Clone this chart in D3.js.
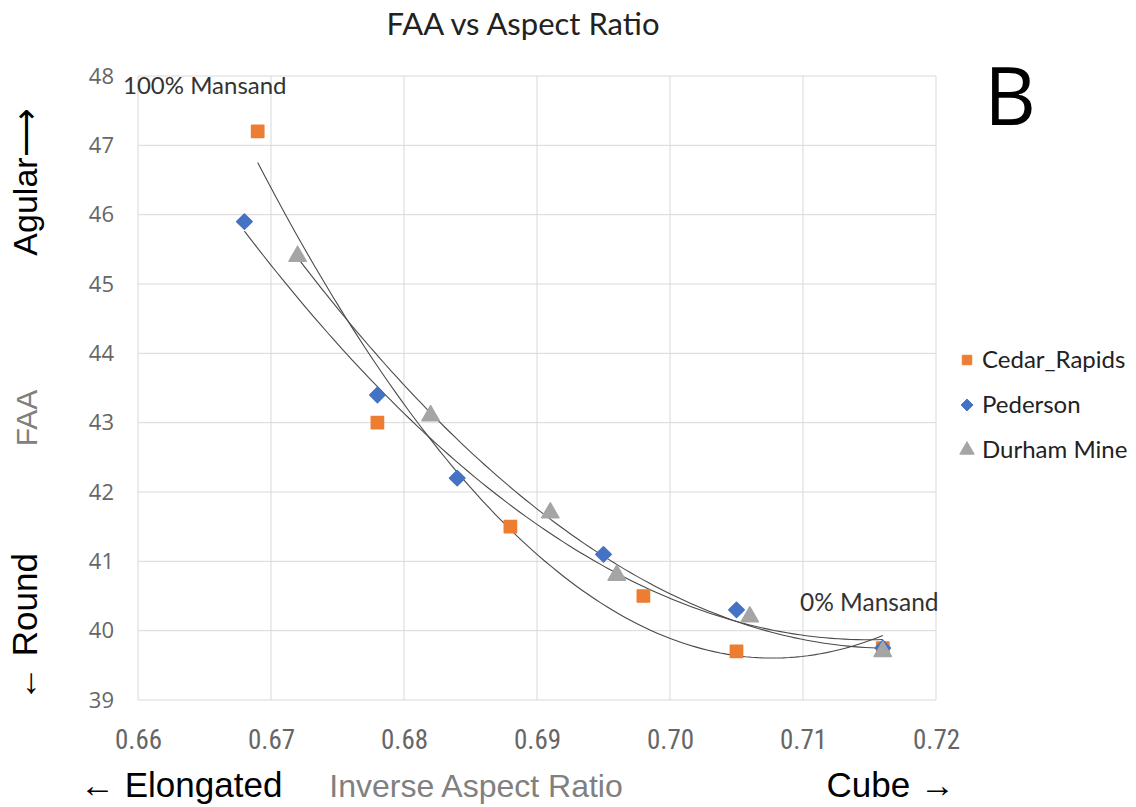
<!DOCTYPE html>
<html>
<head>
<meta charset="utf-8">
<script src="https://cdn.jsdelivr.net/npm/d3@7"></script>
<style>
  body { margin: 0; background: #fff; }
  svg { display: block; }
</style>
</head>
<body>
<svg width="1136" height="807"></svg>
<script>
// data
const seriesNames = ['Cedar_Rapids', 'Pederson', 'Durham Mine'];
const cedarX = [0.669, 0.678, 0.688, 0.698, 0.705, 0.716];
const cedarY = [47.2, 43.0, 41.5, 40.5, 39.7, 39.75];
const pedersonX = [0.668, 0.678, 0.684, 0.695, 0.705, 0.716];
const pedersonY = [45.9, 43.4, 42.2, 41.1, 40.3, 39.75];
const durhamX = [0.672, 0.682, 0.691, 0.696, 0.706, 0.716];
const durhamY = [45.4, 43.1, 41.7, 40.8, 40.2, 39.7];
const xTicks = [0.66, 0.67, 0.68, 0.69, 0.70, 0.71, 0.72];
const yTicks = [39, 40, 41, 42, 43, 44, 45, 46, 47, 48];

const colors = ['#ED7D31', '#4472C4', '#A5A5A5'];

const svg = d3.select('svg');

const x = d3.scaleLinear().domain([0.66, 0.72]).range([138, 936]);
const y = d3.scaleLinear().domain([39, 48]).range([700, 76]);

const series = [
  { name: seriesNames[0], xs: cedarX, ys: cedarY, color: colors[0], shape: 'square' },
  { name: seriesNames[1], xs: pedersonX, ys: pedersonY, color: colors[1], shape: 'diamond' },
  { name: seriesNames[2], xs: durhamX, ys: durhamY, color: colors[2], shape: 'triangle' }
];

const calibri = 'Lato, "Open Sans", sans-serif';
const arial = '"Liberation Sans", Arial, sans-serif';
const narrow = '"Liberation Sans Narrow", "Roboto Condensed", "Liberation Sans", sans-serif';

// gridlines
const grid = svg.append('g');
grid.selectAll('.vg').data(xTicks).join('line')
  .attr('x1', d => x(d)).attr('x2', d => x(d))
  .attr('y1', y(48)).attr('y2', y(39))
  .attr('stroke', '#d9d9d9').attr('stroke-width', 1);
grid.selectAll('.hg').data(yTicks).join('line')
  .attr('x1', x(0.66)).attr('x2', x(0.72))
  .attr('y1', d => y(d)).attr('y2', d => y(d))
  .attr('stroke', '#d9d9d9').attr('stroke-width', 1);

// axes (labels only)
const xAxis = svg.append('g')
  .attr('transform', `translate(0,${y(39)})`)
  .call(d3.axisBottom(x).tickValues(xTicks).tickFormat(d3.format('.2f')).tickSize(0).tickPadding(30));
xAxis.select('.domain').remove();
xAxis.selectAll('text')
  .attr('font-family', narrow)
  .attr('font-size', 27)
  .attr('fill', '#666');

const yAxis = svg.append('g')
  .attr('transform', `translate(${x(0.66)},0)`)
  .call(d3.axisLeft(y).tickValues(yTicks).tickSize(0).tickPadding(24));
yAxis.select('.domain').remove();
yAxis.selectAll('text')
  .attr('font-family', '"Open Sans", sans-serif')
  .attr('font-size', 22)
  .attr('fill', '#666');

// quadratic trendline by least squares
function quadFit(xs, ys) {
  const m = d3.mean(xs);
  const u = xs.map(v => v - m);
  const s = k => d3.sum(u, v => Math.pow(v, k));
  const t = k => d3.sum(u, (v, i) => Math.pow(v, k) * ys[i]);
  const A = [[xs.length, s(1), s(2)], [s(1), s(2), s(3)], [s(2), s(3), s(4)]];
  const b = [t(0), t(1), t(2)];
  for (let i = 0; i < 3; i++) {
    for (let j = i + 1; j < 3; j++) {
      const f = A[j][i] / A[i][i];
      for (let k = i; k < 3; k++) A[j][k] -= f * A[i][k];
      b[j] -= f * b[i];
    }
  }
  const c = [0, 0, 0];
  for (let i = 2; i >= 0; i--) {
    let v = b[i];
    for (let k = i + 1; k < 3; k++) v -= A[i][k] * c[k];
    c[i] = v / A[i][i];
  }
  return xv => c[0] + c[1] * (xv - m) + c[2] * (xv - m) * (xv - m);
}

const line = d3.line().x(d => x(d[0])).y(d => y(d[1]));
series.forEach(s => {
  const f = quadFit(s.xs, s.ys);
  const x0 = d3.min(s.xs), x1 = d3.max(s.xs);
  const pts = d3.range(0, 101).map(i => {
    const xv = x0 + (x1 - x0) * i / 100;
    return [xv, f(xv)];
  });
  svg.append('path')
    .attr('d', line(pts))
    .attr('fill', 'none')
    .attr('stroke', '#4a4a4a')
    .attr('stroke-width', 1.1);
});

// markers
const symbolType = shape => shape === 'square' ? d3.symbolSquare
  : shape === 'diamond' ? d3.symbolDiamond2 : d3.symbolTriangle;
series.forEach(s => {
  svg.append('g').selectAll('path')
    .data(s.xs.map((v, i) => [v, s.ys[i]]))
    .join('path')
    .attr('d', d3.symbol().type(symbolType(s.shape)).size(s.shape === 'triangle' ? 130 : 150)())
    .attr('transform', d => `translate(${x(d[0])},${y(d[1])})`)
    .attr('fill', s.color)
    .attr('stroke', s.color)
    .attr('stroke-width', 1.5)
    .attr('stroke-linejoin', 'round');
});

// title
svg.append('text')
  .attr('x', 523).attr('y', 35)
  .attr('text-anchor', 'middle')
  .attr('font-family', calibri)
  .attr('font-size', 31)
  .attr('fill', '#222')
  .text('FAA vs Aspect Ratio');

// panel letter
svg.append('text')
  .attr('x', 1010).attr('y', 125)
  .attr('text-anchor', 'middle')
  .attr('font-family', '"Open Sans", sans-serif')
  .attr('font-size', 80)
  .attr('fill', '#000')
  .text('B');

// annotations
svg.append('text')
  .attr('x', 123).attr('y', 94)
  .attr('font-family', calibri)
  .attr('font-size', 24)
  .attr('fill', '#333')
  .text('100% Mansand');
svg.append('text')
  .attr('x', 800).attr('y', 611)
  .attr('font-family', calibri)
  .attr('font-size', 24.5)
  .attr('fill', '#333')
  .text('0% Mansand');

// legend
const legend = svg.append('g').attr('transform', 'translate(967,360)');
series.forEach((s, i) => {
  const row = legend.append('g').attr('transform', `translate(0,${i * 45})`);
  row.append('path')
    .attr('d', d3.symbol().type(symbolType(s.shape)).size(90)())
    .attr('fill', s.color).attr('stroke', s.color).attr('stroke-linejoin', 'round');
  row.append('text')
    .attr('x', 15).attr('y', 8)
    .attr('font-family', calibri)
    .attr('font-size', 24)
    .attr('fill', '#222')
    .text(s.name);
});

// axis titles
svg.append('text')
  .attr('x', 80).attr('y', 797)
  .attr('font-family', arial).attr('font-size', 35).attr('fill', '#000')
  .text('\u2190 Elongated');
svg.append('text')
  .attr('x', 476).attr('y', 797)
  .attr('text-anchor', 'middle')
  .attr('font-family', arial).attr('font-size', 32).attr('fill', '#808080')
  .text('Inverse Aspect Ratio');
svg.append('text')
  .attr('x', 955).attr('y', 797)
  .attr('text-anchor', 'end')
  .attr('font-family', arial).attr('font-size', 35).attr('fill', '#000')
  .text('Cube \u2192');

const yTitle = (txt, cy, color, size) => svg.append('text')
  .attr('transform', `translate(37,${cy}) rotate(-90)`)
  .attr('text-anchor', 'middle')
  .attr('font-family', arial).attr('font-size', size).attr('fill', color)
  .text(txt);
yTitle('Agular\u27F6', 182, '#000', 34);
yTitle('FAA', 418, '#808080', 30);
yTitle('\u2190 Round', 627, '#000', 35);
</script>
</body>
</html>
